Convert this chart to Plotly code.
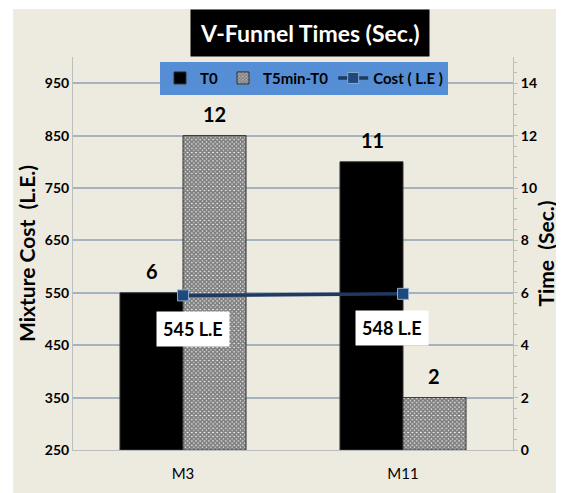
import plotly.graph_objects as go

categories = ["M3", "M11"]
t0_values = [6, 11]
t5_values = [12, 2]
cost_values = [545, 548]
cost_ticks = [250, 350, 450, 550, 650, 750, 850, 950]
time_ticks = [0, 2, 4, 6, 8, 10, 12, 14]

FONT = "Lato, 'Open Sans', sans-serif"
BG = "#EDEAE0"
GRID = "#A7B2BF"
AXIS = "#BDBDBD"
BAR_OFFSET = 31  # px from category centre to each bar centre

fig = go.Figure()

fig.add_trace(go.Bar(
    x=categories, y=t0_values, name="T0", yaxis="y",
    marker=dict(color="black", line=dict(color="#333333", width=1)),
))
fig.add_trace(go.Bar(
    x=categories, y=t5_values, name="T5min-T0", yaxis="y",
    marker=dict(color="white",
                pattern=dict(shape="x", fgcolor="black", bgcolor="white", size=3, solidity=0.85),
                line=dict(color="#333333", width=1)),
))
fig.add_trace(go.Scatter(
    x=categories, y=cost_values, name="Cost ( L.E )", yaxis="y2",
    mode="lines+markers",
    line=dict(color="#1F3A60", width=3.5),
    marker=dict(symbol="square", size=11, color="#1F497D", line=dict(color="#8EA9C8", width=1)),
    cliponaxis=False,
))

# bar value labels
for vals, xs in ((t0_values, -BAR_OFFSET), (t5_values, BAR_OFFSET)):
    for c, v in zip(categories, vals):
        fig.add_annotation(
            x=c, y=v, xref="x", yref="y", text=str(v), showarrow=False,
            xshift=xs, yanchor="bottom", yshift=8,
            font=dict(family=FONT, size=20, color="black", weight="bold"),
        )

label_xshift = [10, -11]
for c, v, xs in zip(categories, cost_values, label_xshift):
    fig.add_annotation(
        x=c, y=v, xref="x", yref="y2", text=f"{v} L.E", showarrow=False,
        xshift=xs, yshift=-34, bgcolor="white", borderpad=6,
        font=dict(family=FONT, size=18, color="black", weight="bold"),
    )

fig.add_annotation(
    x=0.539, y=1.062, xref="paper", yref="paper", xanchor="center", yanchor="middle",
    text="V-Funnel Times (Sec.)", showarrow=False, bgcolor="black", borderpad=9,
    font=dict(family=FONT, size=23, color="white", weight="bold"),
)

fig.add_shape(type="rect", xref="paper", yref="paper",
              x0=-0.136, x1=1.14, y0=-0.14, y1=1.122,
              fillcolor=BG, line=dict(width=0), layer="below")

fig.update_layout(
    width=564, height=493,
    margin=dict(l=65, r=59, t=49, b=51, autoexpand=False),
    paper_bgcolor="white", plot_bgcolor="rgba(0,0,0,0)",
    barmode="group", bargap=0.427, bargroupgap=0,
    showlegend=True,
    legend=dict(orientation="h", x=0.525, xanchor="center", y=0.988, yanchor="top",
                bgcolor="#558ED5", borderwidth=0,
                font=dict(family=FONT, size=15, color="black", weight="bold"),
                itemwidth=30, tracegroupgap=0),
    xaxis=dict(showline=True, linecolor=AXIS, linewidth=1, ticks="", automargin=False,
               ticklabelstandoff=10,
               tickfont=dict(family=FONT, size=15, color="black")),
    yaxis=dict(side="right", range=[0, 15], tickvals=time_ticks, automargin=False,
               showgrid=True, gridcolor=GRID, gridwidth=1.5, zeroline=False,
               showline=True, linecolor=AXIS, linewidth=1,
               ticks="outside", ticklen=4, tickcolor=AXIS,
               minor=dict(dtick=0.4, tick0=0, ticks="outside", ticklen=3, tickcolor=AXIS, showgrid=False),
               tickfont=dict(family=FONT, size=14, color="black", weight="bold"),
               title=dict(text="Time  (Sec.)", standoff=3,
                          font=dict(family=FONT, size=21, color="black", weight="bold"))),
    yaxis2=dict(side="left", overlaying="y", range=[250, 1000], tickvals=cost_ticks,
                automargin=False,
                showgrid=False, zeroline=False,
                showline=True, linecolor=AXIS, linewidth=1, ticks="",
                tickfont=dict(family=FONT, size=14, color="black", weight="bold"),
                title=dict(text="Mixture Cost  (L.E.)", standoff=3,
                           font=dict(family=FONT, size=21, color="black", weight="bold"))),
)

fig.write_html("out.html")
